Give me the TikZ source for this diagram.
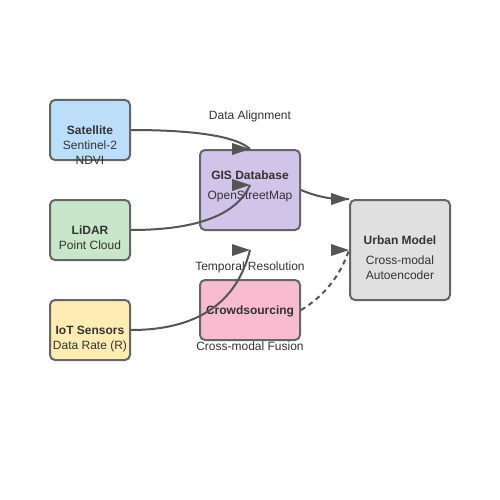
\documentclass[tikz,border=0pt]{standalone}
\usepackage{fontspec}
\setmainfont{Liberation Sans}
\usetikzlibrary{calc}
\definecolor{edgec}{HTML}{555555}
\definecolor{borderc}{HTML}{666666}
\definecolor{txtc}{HTML}{333333}
\definecolor{cSat}{HTML}{BBDEFB}
\definecolor{cLid}{HTML}{C8E6C9}
\definecolor{cIot}{HTML}{FFECB3}
\definecolor{cGis}{HTML}{D1C4E9}
\definecolor{cCrowd}{HTML}{F8BBD0}
\definecolor{cUrb}{HTML}{E0E0E0}
\tikzset{
  box/.style={draw=borderc, line width=2pt, rounded corners=5pt, inner sep=0pt},
  ttl/.style={anchor=base, inner sep=0pt, text=txtc, font=\fontsize{12pt}{14pt}\selectfont\bfseries},
  sub/.style={anchor=base, inner sep=0pt, text=txtc, font=\fontsize{12pt}{14pt}\selectfont},
  conn/.style={draw=edgec, line width=2pt},
  dconn/.style={conn, dash pattern=on 5pt off 4pt},
  headc/.style={fill=edgec}
}
\begin{document}
\begin{tikzpicture}[x=1pt,y=-1pt]
\useasboundingbox (0,0) rectangle (500,500);
\fill[white] (0,0) rectangle (500,500);
% boxes
\node[box, fill=cSat, minimum width=80pt, minimum height=60pt] (sat) at (90,130) {};
\node[box, fill=cLid, minimum width=80pt, minimum height=60pt] (lid) at (90,230) {};
\node[box, fill=cIot, minimum width=80pt, minimum height=60pt] (iot) at (90,330) {};
\node[box, fill=cGis, minimum width=100pt, minimum height=80pt] (gis) at (250,190) {};
\node[box, fill=cCrowd, minimum width=100pt, minimum height=60pt] (crowd) at (250,310) {};
\node[box, fill=cUrb, minimum width=100pt, minimum height=100pt] (urb) at (400,250) {};
% texts
\node[ttl] (satT) at (90,134) {Satellite};
\node[sub] (satS1) at (90,149) {Sentinel-2};
\node[sub] (satS2) at (90,164) {NDVI};
\node[ttl] (lidT) at (90,234) {LiDAR};
\node[sub] (lidS) at (90,249) {Point Cloud};
\node[ttl] (iotT) at (90,334) {IoT Sensors};
\node[sub] (iotS) at (90,349) {Data Rate (R)};
\node[ttl] (gisT) at (250,179) {GIS Database};
\node[sub] (gisS) at (250,199) {OpenStreetMap};
\node[ttl] (crowdT) at (250,314) {Crowdsourcing};
\node[ttl] (urbT) at (400,244) {Urban Model};
\node[sub] (urbS1) at (400,264) {Cross-modal};
\node[sub] (urbS2) at (400,279) {Autoencoder};
% labels
\node[sub] (lab1) at (250,120) {Data Alignment};
\node[sub] (lab2) at (250,270) {Temporal Resolution};
\node[sub] (lab3) at (250,350) {Cross-modal Fusion};
% end points
\coordinate (lidEnd) at (250,185);
\coordinate (iotEnd) at (250,250);
% connectors
\draw[conn] (sat.east) .. controls (196.7,130) and (236.7,136.7) .. (gis.north);
\draw[conn] (lid.east) .. controls (196.7,230) and (236.7,215) .. (lidEnd);
\draw[conn] (iot.east) .. controls (196.7,330) and (236.7,303.3) .. (iotEnd);
\draw[conn] (gis.east) .. controls (316.7,196.7) and (333.3,200) .. (urb.north west);
\draw[dconn] (crowd.east) .. controls (323.3,296.7) and (340,276.7) .. (urb.west);
% arrowheads
\fill[headc] (gis.north) -- ++(-18,-6) -- ++(0,12) -- cycle;
\fill[headc] (lidEnd) -- ++(-18,-6) -- ++(0,12) -- cycle;
\fill[headc] (iotEnd) -- ++(-18,-6) -- ++(0,12) -- cycle;
\fill[headc] (urb.north west) -- ++(-18,-6) -- ++(0,12) -- cycle;
\fill[headc] (urb.west) -- ++(-18,-6) -- ++(0,12) -- cycle;
\end{tikzpicture}
\end{document}
